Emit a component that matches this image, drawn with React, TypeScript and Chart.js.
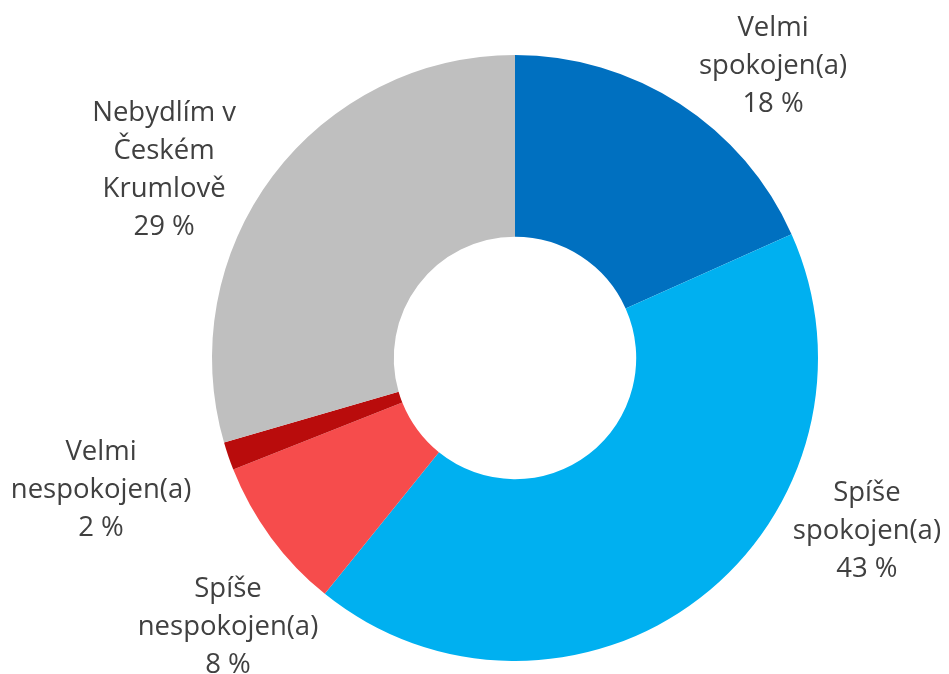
import React, { useEffect, useRef } from "react";
import { Chart, registerables } from "chart.js";

Chart.register(...registerables);

const categories = [
  "Velmi spokojen(a)",
  "Spíše spokojen(a)",
  "Spíše nespokojen(a)",
  "Velmi nespokojen(a)",
  "Nebydlím v Českém Krumlově",
];
const values = [18.3, 42.5, 8.2, 1.5, 29.5];
const labelLines = [
  ["Velmi", "spokojen(a)", "18 %"],
  ["Spíše", "spokojen(a)", "43 %"],
  ["Spíše", "nespokojen(a)", "8 %"],
  ["Velmi", "nespokojen(a)", "2 %"],
  ["Nebydlím v", "Českém", "Krumlově", "29 %"],
];
const colors = ["#0070C0", "#00B0F0", "#F64C4C", "#B90C0C", "#BFBFBF"];

// label placement: angle (deg, clockwise from top) and distance as factor of outer radius
const labelAngles = [41.2, 115.8, 227.2, 252.7, 298.6];
const labelDist = [1.293, 1.29, 1.291, 1.431, 1.319];

const labelPlugin = {
  id: "outerLabels",
  afterDatasetsDraw(chart: any) {
    const meta = chart.getDatasetMeta(0);
    const arc = meta.data[0];
    if (!arc) return;
    const { x, y, outerRadius } = arc.getProps(["x", "y", "outerRadius"], true);
    const ctx = chart.ctx;
    ctx.save();
    ctx.font = '27.5px "Open Sans", "Noto Sans", sans-serif';
    ctx.fillStyle = "#404040";
    ctx.textAlign = "center";
    ctx.textBaseline = "middle";
    const lh = 38;
    labelLines.forEach((lines, i) => {
      const a = (labelAngles[i] * Math.PI) / 180;
      const cx = x + Math.sin(a) * outerRadius * labelDist[i];
      const cy = y - Math.cos(a) * outerRadius * labelDist[i] + 3;
      const start = cy - ((lines.length - 1) * lh) / 2;
      lines.forEach((t, j) => ctx.fillText(t, cx, start + j * lh));
    });
    ctx.restore();
  },
};

export default function App() {
  const ref = useRef<HTMLCanvasElement>(null);
  useEffect(() => {
    if (!ref.current) return;
    const chart = new Chart(ref.current, {
      type: "doughnut",
      data: {
        labels: categories,
        datasets: [
          {
            data: values,
            backgroundColor: colors,
            borderWidth: 0,
          },
        ],
      },
      options: {
        animation: false,
        responsive: false,
        cutout: "40%",
        layout: { padding: { top: 55, bottom: 13, left: 212, right: 131 } },
        plugins: {
          legend: { display: false },
          tooltip: { enabled: false },
        },
      },
      plugins: [labelPlugin],
    });
    return () => chart.destroy();
  }, []);
  return (
    <div style={{ position: "fixed", left: 0, top: 0, width: 949, height: 674, background: "#fff" }}>
      <canvas ref={ref} width={949} height={674} style={{ width: 949, height: 674 }} />
    </div>
  );
}
